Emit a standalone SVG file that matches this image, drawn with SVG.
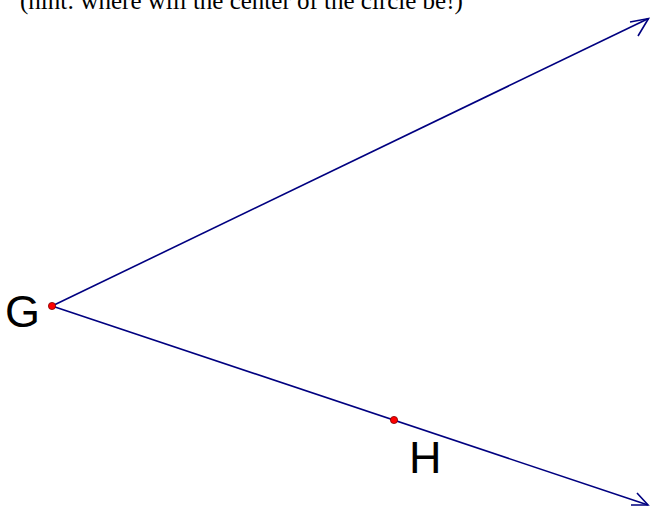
<svg xmlns="http://www.w3.org/2000/svg" width="654" height="519" viewBox="0 0 654 519">
<style>
.ray{stroke:#000080;stroke-width:1.6;fill:none}
.pt{fill:#ff0000;stroke:#800000;stroke-width:0.8}
.lbl{font-family:"Liberation Sans",Arial,sans-serif;font-size:45px;fill:#000}
.hint{font-family:"Liberation Serif","Times New Roman",serif;font-size:25px;fill:#000}
</style>
<rect width="654" height="519" fill="#fff"/>
<text class="hint" x="20" y="9">(hint: where will the center of the circle be!)</text>
<g id="connectors">
<line class="ray" x1="52" y1="306" x2="648.5" y2="18.5"/>
<polyline class="ray" points="630,22 648.5,18.5 638,36"/>
<line class="ray" x1="52" y1="306" x2="648" y2="505"/>
<polyline class="ray" points="637,493 648,505 631,505"/>
</g>
<g id="G">
<circle class="pt" cx="52" cy="306" r="3.6"/>
<text class="lbl" x="5" y="327">G</text>
</g>
<g id="H">
<circle class="pt" cx="394" cy="420" r="3.6"/>
<text class="lbl" x="409" y="473">H</text>
</g>
</svg>
